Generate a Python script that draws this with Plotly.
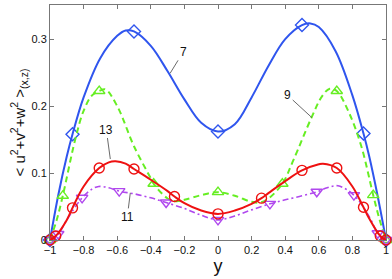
import plotly.graph_objects as go

# ---- curve samples ----
x7 = [-1.0, -0.95, -0.9, -0.866, -0.8, -0.7, -0.6, -0.55, -0.5, -0.4, -0.3, -0.2, -0.1, 0.0,
      0.1, 0.2, 0.3, 0.4, 0.5, 0.55, 0.6, 0.7, 0.8, 0.866, 0.9, 0.95, 1.0]
y7 = [0.0, 0.068, 0.125, 0.158, 0.213, 0.272, 0.305, 0.313, 0.3115, 0.29, 0.252, 0.21, 0.175, 0.162,
      0.173, 0.213, 0.26, 0.3, 0.321, 0.3235, 0.318, 0.282, 0.216, 0.159, 0.125, 0.066, 0.0]

x9 = [-1.0, -0.96, -0.924, -0.85, -0.8, -0.75, -0.707, -0.67, -0.6, -0.5, -0.4, -0.383, -0.3, -0.25,
      -0.2, -0.1, 0.0, 0.1, 0.2, 0.25, 0.3, 0.383, 0.45, 0.556, 0.62, 0.665, 0.707, 0.78, 0.853, 0.924, 0.96, 1.0]
y9 = [0.0, 0.03, 0.066, 0.15, 0.193, 0.216, 0.2225, 0.225, 0.2, 0.14, 0.092, 0.084, 0.062, 0.058,
      0.06, 0.067, 0.0715, 0.066, 0.057, 0.056, 0.062, 0.084, 0.12, 0.1825, 0.215, 0.226, 0.2225, 0.19, 0.14, 0.067, 0.032, 0.0]

x13 = [-1.0, -0.966, -0.9, -0.866, -0.8, -0.707, -0.65, -0.61, -0.55, -0.5, -0.4, -0.3, -0.259, -0.2,
       -0.1, 0.0, 0.1, 0.2, 0.259, 0.3, 0.4, 0.5, 0.6, 0.625, 0.707, 0.8, 0.866, 0.9, 0.966, 1.0]
y13 = [0.0, 0.006, 0.03, 0.048, 0.08, 0.1075, 0.116, 0.1175, 0.114, 0.106, 0.09, 0.073, 0.065, 0.055,
       0.044, 0.039, 0.044, 0.054, 0.0625, 0.07, 0.088, 0.104, 0.113, 0.114, 0.1075, 0.08, 0.049, 0.032, 0.006, 0.0]

x11 = [-1.0, -0.951, -0.9, -0.809, -0.75, -0.71, -0.65, -0.588, -0.5, -0.4, -0.309, -0.2, -0.1, 0.0,
       0.1, 0.2, 0.309, 0.4, 0.5, 0.588, 0.65, 0.714, 0.809, 0.9, 0.951, 1.0]
y11 = [0.0, 0.009, 0.03, 0.063, 0.076, 0.08, 0.078, 0.073, 0.069, 0.063, 0.056, 0.047, 0.037, 0.03,
       0.036, 0.045, 0.054, 0.06, 0.066, 0.072, 0.078, 0.081, 0.067, 0.035, 0.01, 0.0]

# ---- marker points (Chebyshev nodes) ----
mx7 = [-1.0, -0.866, -0.5, 0.0, 0.5, 0.866, 1.0]
my7 = [0.0, 0.158, 0.3115, 0.162, 0.321, 0.159, 0.0]
mx9 = [-1.0, -0.924, -0.707, -0.383, 0.0, 0.383, 0.707, 0.924, 1.0]
my9 = [0.0, 0.066, 0.2225, 0.084, 0.0715, 0.084, 0.2225, 0.067, 0.0]
mx13 = [-1.0, -0.966, -0.866, -0.707, -0.5, -0.259, 0.0, 0.259, 0.5, 0.707, 0.866, 0.966, 1.0]
my13 = [0.0, 0.006, 0.048, 0.1075, 0.106, 0.065, 0.039, 0.0625, 0.104, 0.1075, 0.049, 0.006, 0.0]
mx11 = [-1.0, -0.951, -0.809, -0.588, -0.309, 0.0, 0.309, 0.588, 0.809, 0.951, 1.0]
my11 = [0.0, 0.009, 0.063, 0.073, 0.056, 0.03, 0.054, 0.072, 0.067, 0.01, 0.0]

xticks = [-1, -0.8, -0.6, -0.4, -0.2, 0, 0.2, 0.4, 0.6, 0.8, 1]
xticklabels = ["\u22121", "\u22120.8", "\u22120.6", "\u22120.4", "\u22120.2", "0", "0.2", "0.4", "0.6", "0.8", "1"]
yticks = [0, 0.1, 0.2, 0.3]
yticklabels = ["0", "0.1", "0.2", "0.3"]

labels = ["7", "9", "13", "11"]
label_pos = [(-0.208, 0.2805), (0.415, 0.216), (-0.665, 0.165), (-0.54, 0.0345)]
label_tip = [(-0.285, 0.249), (0.558, 0.183), (-0.641, 0.121), (-0.522, 0.0705)]

BLUE = "#2f55ee"
GREEN = "#66ee22"
RED = "#ee1111"
PURPLE = "#b048ee"
FONT = "Liberation Sans, Arial, sans-serif"

fig = go.Figure()
series = [
    (x7, y7, mx7, my7, BLUE, "solid", "diamond-open", 2.0),
    (x9, y9, mx9, my9, GREEN, "6px,4px", "triangle-up-open", 2.0),
    (x11, y11, mx11, my11, PURPLE, "6px,3px,2px,3px", "triangle-down-open", 1.6),
    (x13, y13, mx13, my13, RED, "solid", "circle-open", 2.0),
]
for xs, ys, mxs, mys, col, dash, sym, lw in series:
    fig.add_trace(go.Scatter(x=xs, y=ys, mode="lines",
                             line=dict(color=col, width=lw, dash=dash, shape="spline", smoothing=1.0),
                             showlegend=False, hoverinfo="skip", cliponaxis=False))
    fig.add_trace(go.Scatter(x=mxs, y=mys, mode="markers",
                             marker=dict(symbol=sym, size=10, color=col, line=dict(color=col, width=1.4)),
                             showlegend=False, hoverinfo="skip", cliponaxis=False))

for t, (tx, ty), (hx, hy) in zip(labels, label_pos, label_tip):
    fig.add_annotation(x=hx, y=hy, ax=tx, ay=ty, xref="x", yref="y", axref="x", ayref="y",
                       text=t, showarrow=True, arrowhead=0, arrowwidth=0.8, arrowcolor="#444",
                       standoff=0, startstandoff=0,
                       font=dict(size=12, color="#111", family=FONT))

axis_common = dict(showline=True, linecolor="#777", linewidth=1, mirror="ticks",
                   ticks="inside", ticklen=4, tickcolor="#777", showgrid=False, zeroline=False,
                   automargin=False,
                   tickfont=dict(size=11, color="#111", family=FONT))

fig.update_layout(
    width=392, height=279,
    margin=dict(l=50, r=6, t=5, b=39),
    paper_bgcolor="white", plot_bgcolor="white",
    hovermode=False,
    xaxis=dict(range=[-1, 1], tickvals=xticks, ticktext=xticklabels,
               title=dict(text="y", standoff=0,
                          font=dict(size=18, color="#111", family=FONT)),
               **axis_common),
    yaxis=dict(range=[0, 0.351], tickvals=yticks, ticktext=yticklabels,
               title=dict(text="< u<sup>2</sup>+v<sup>2</sup>+w<sup>2</sup> ><sub>(x,z)</sub>", standoff=2,
                          font=dict(size=15, color="#111", family=FONT)),
               **axis_common),
)

fig.write_html("out.html", config={"displayModeBar": False},
               post_script="document.body.style.margin='0';")
